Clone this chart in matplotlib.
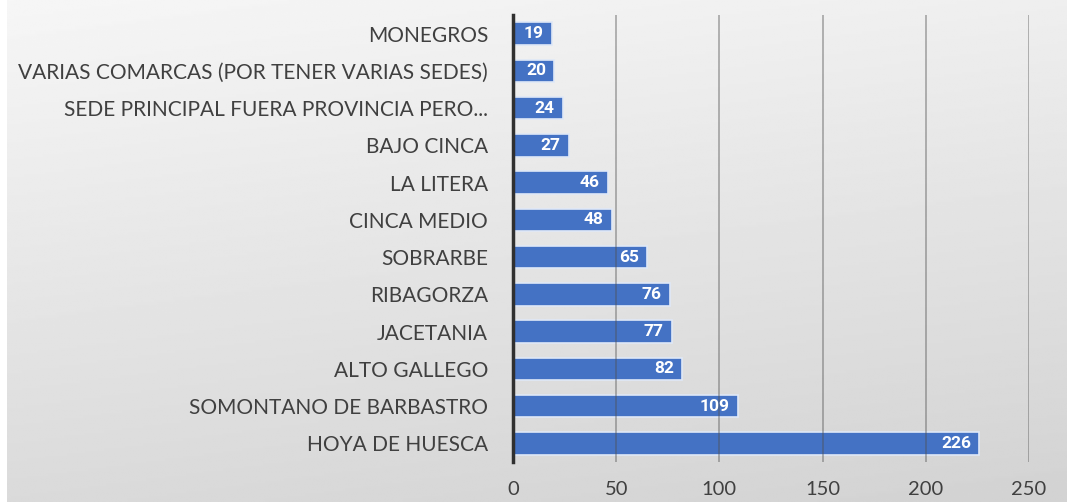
import matplotlib.pyplot as plt
import numpy as np

comarcas = ['HOYA DE HUESCA', 'SOMONTANO DE BARBASTRO', 'ALTO GALLEGO', 'JACETANIA',
            'RIBAGORZA', 'SOBRARBE', 'CINCA MEDIO', 'LA LITERA', 'BAJO CINCA',
            'SEDE PRINCIPAL FUERA PROVINCIA PERO...',
            'VARIAS COMARCAS (POR TENER VARIAS SEDES)', 'MONEGROS']
valores = [226, 109, 82, 77, 76, 65, 48, 46, 27, 24, 20, 19]
ticks_x = [0, 50, 100, 150, 200, 250]

plt.rcParams['font.family'] = ['Lato', 'DejaVu Sans']

fig = plt.figure(figsize=(10.67, 5.03), dpi=100)

# fondo degradado (gris claro)
bg = fig.add_axes([7 / 1067, 1 / 503, 1 - 7 / 1067, 1 - 1 / 503], zorder=0)
yy, xx = np.mgrid[0:1:200j, 0:1:400j]
grad = 0.965 - 0.11 * yy - 0.03 * xx
bg.imshow(grad, cmap='gray', vmin=0, vmax=1, aspect='auto', extent=[0, 1, 1, 0])
bg.axis('off')

ax = fig.add_axes([513 / 1067, 1 - 462 / 503, (1029 - 513) / 1067, (462 - 15) / 503], zorder=1)
ax.patch.set_alpha(0)

y = np.arange(len(comarcas))
barras = ax.barh(y, valores, height=0.6, color='#4472C4', edgecolor='#dfe8f7', linewidth=1.2, zorder=2)
for b, v in zip(barras, valores):
    ax.annotate(str(v), (b.get_width(), b.get_y() + b.get_height() / 2), xytext=(-6, 0),
                textcoords='offset points', ha='right', va='center', family=['Roboto', 'DejaVu Sans'],
                color='white', fontweight='bold', fontsize=12.5, zorder=4)

ax.set_xlim(0, 250)
ax.set_ylim(-0.5, len(comarcas) - 0.5)
ax.set_xticks(ticks_x)
ax.set_yticks(y)
ax.set_yticklabels(comarcas)
ax.tick_params(axis='both', length=0, colors='#404040')
ax.tick_params(axis='x', pad=14, labelsize=14.5)
ax.tick_params(axis='y', pad=18, labelsize=15)
# la rejilla se ve por encima de las barras
ax.grid(axis='x', color='#505050', alpha=0.4, linewidth=1.4, zorder=3)
ax.set_axisbelow(False)
for s in ['top', 'right', 'bottom']:
    ax.spines[s].set_visible(False)
ax.spines['left'].set_color('#303030')
ax.spines['left'].set_linewidth(2.5)
ax.spines['left'].set_zorder(5)

fig.savefig('out.png', dpi=100)
